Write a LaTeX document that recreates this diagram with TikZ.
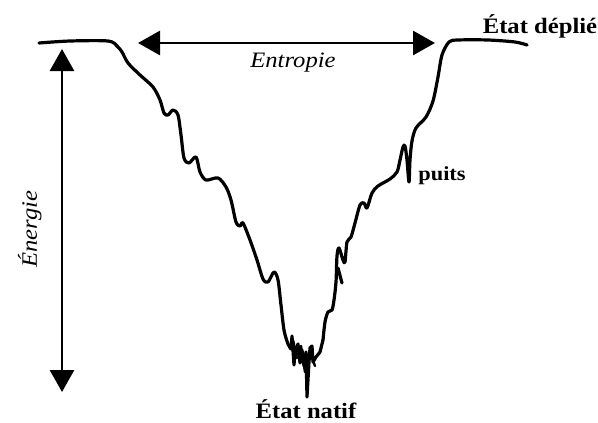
\documentclass[tikz,border=0pt]{standalone}
\usepackage{fontspec}
\setmainfont{Liberation Serif}[FakeStretch=1.12]
\usetikzlibrary{arrows.meta}
\begin{document}
\begin{tikzpicture}[x=1pt,y=-1pt]
    \useasboundingbox (0,0) rectangle (598,423);
    \tikzstyle{courbe}=[line width=3.2pt,line join=round,line cap=round]
    \tikzstyle{fleche}=[line width=2.8pt,{Triangle[length=22pt,width=24pt]}-{Triangle[length=22pt,width=24pt]}]
    \tikzstyle{texte}=[inner sep=0pt,anchor=base,font=\fontsize{22}{26}\selectfont]

    %%%%%%%%%%%%%%%%%%%%%%%%%%%%%%%%%%%%%% Fl\`eches
    \coordinate (eG) at (138,43);
    \coordinate (eD) at (435,43);
    \coordinate (nH) at (62,49);
    \coordinate (nB) at (62,392);
    \draw[fleche] (eG)--(eD);
    \draw[fleche] (nH)--(nB);

    \node[texte] (entropie) at (293,67) {\itshape Entropie};
    \node[texte,rotate=90] (energie) at (37,229) {\itshape \'Energie};

    %%%%%%%%%%%%%%%%%%%%%%%%%%%%%%%%%%%%%% Entonnoir
    \draw[courbe] plot[smooth,tension=0.5] coordinates {
      (39,43) (70,41) (108,41) (117,46) (122,52) (128,63) (140,75) (153,87)
      (160,100) (164,113) (168,115) (173,110) (178,115) (181,135) (184,158)
      (189,163) (196,157) (200,172) (206,180) (218,178) (226,187) (231,200)
      (236,222) (240,226) (243,223) (250,240) (257,260) (263,279) (268,282)
      (274,272) (278,280) (281,305) (284,330) (288,344) (291,349)};
    \draw[courbe] (291,349)--(292,336)--(294,365)--(295,352)--(298,344)--(300,363)
      --(302,350)--(304,366)--(306,352)--(307,397)--(309,362)--(310,348)--(312,346)
      --(313,362)--(316,357)--(320,352)--(323,340);
    \draw[courbe,line width=2.4pt] (293,340)--(297,358)--(301,346)--(305,372)--(311,355)--(315,366);
    \draw[courbe] plot[smooth,tension=0.5] coordinates {
      (323,340) (325,322) (328,312) (332,310) (334,300) (336,282) (337,256)
      (339,248) (343,260) (345,262) (347,242) (351,237) (355,223) (360,205)
      (364,203) (367,208) (372,193) (378,186) (390,179) (397,172) (400,160)
      (403,147) (405,146) (407,160) (409,182) (410,160) (412,141) (416,128)
      (426,117) (433,101) (438,77) (442,55) (449,42) (458,40) (488,40)
      (515,42) (527,45)};
    \draw[courbe] (338,268)--(342,283);

    %%%%%%%%%%%%%%%%%%%%%%%%%%%%%%%%%%%%%% \'Etats
    \node[texte] (deplie) at (540,33) {\bfseries \'Etat d\'epli\'e};
    \node[texte] (natif) at (306,418) {\bfseries \'Etat natif};
    \node[texte,font=\fontsize{20}{24}\selectfont] (puits) at (442,180) {\bfseries puits};
\end{tikzpicture}
\end{document}
